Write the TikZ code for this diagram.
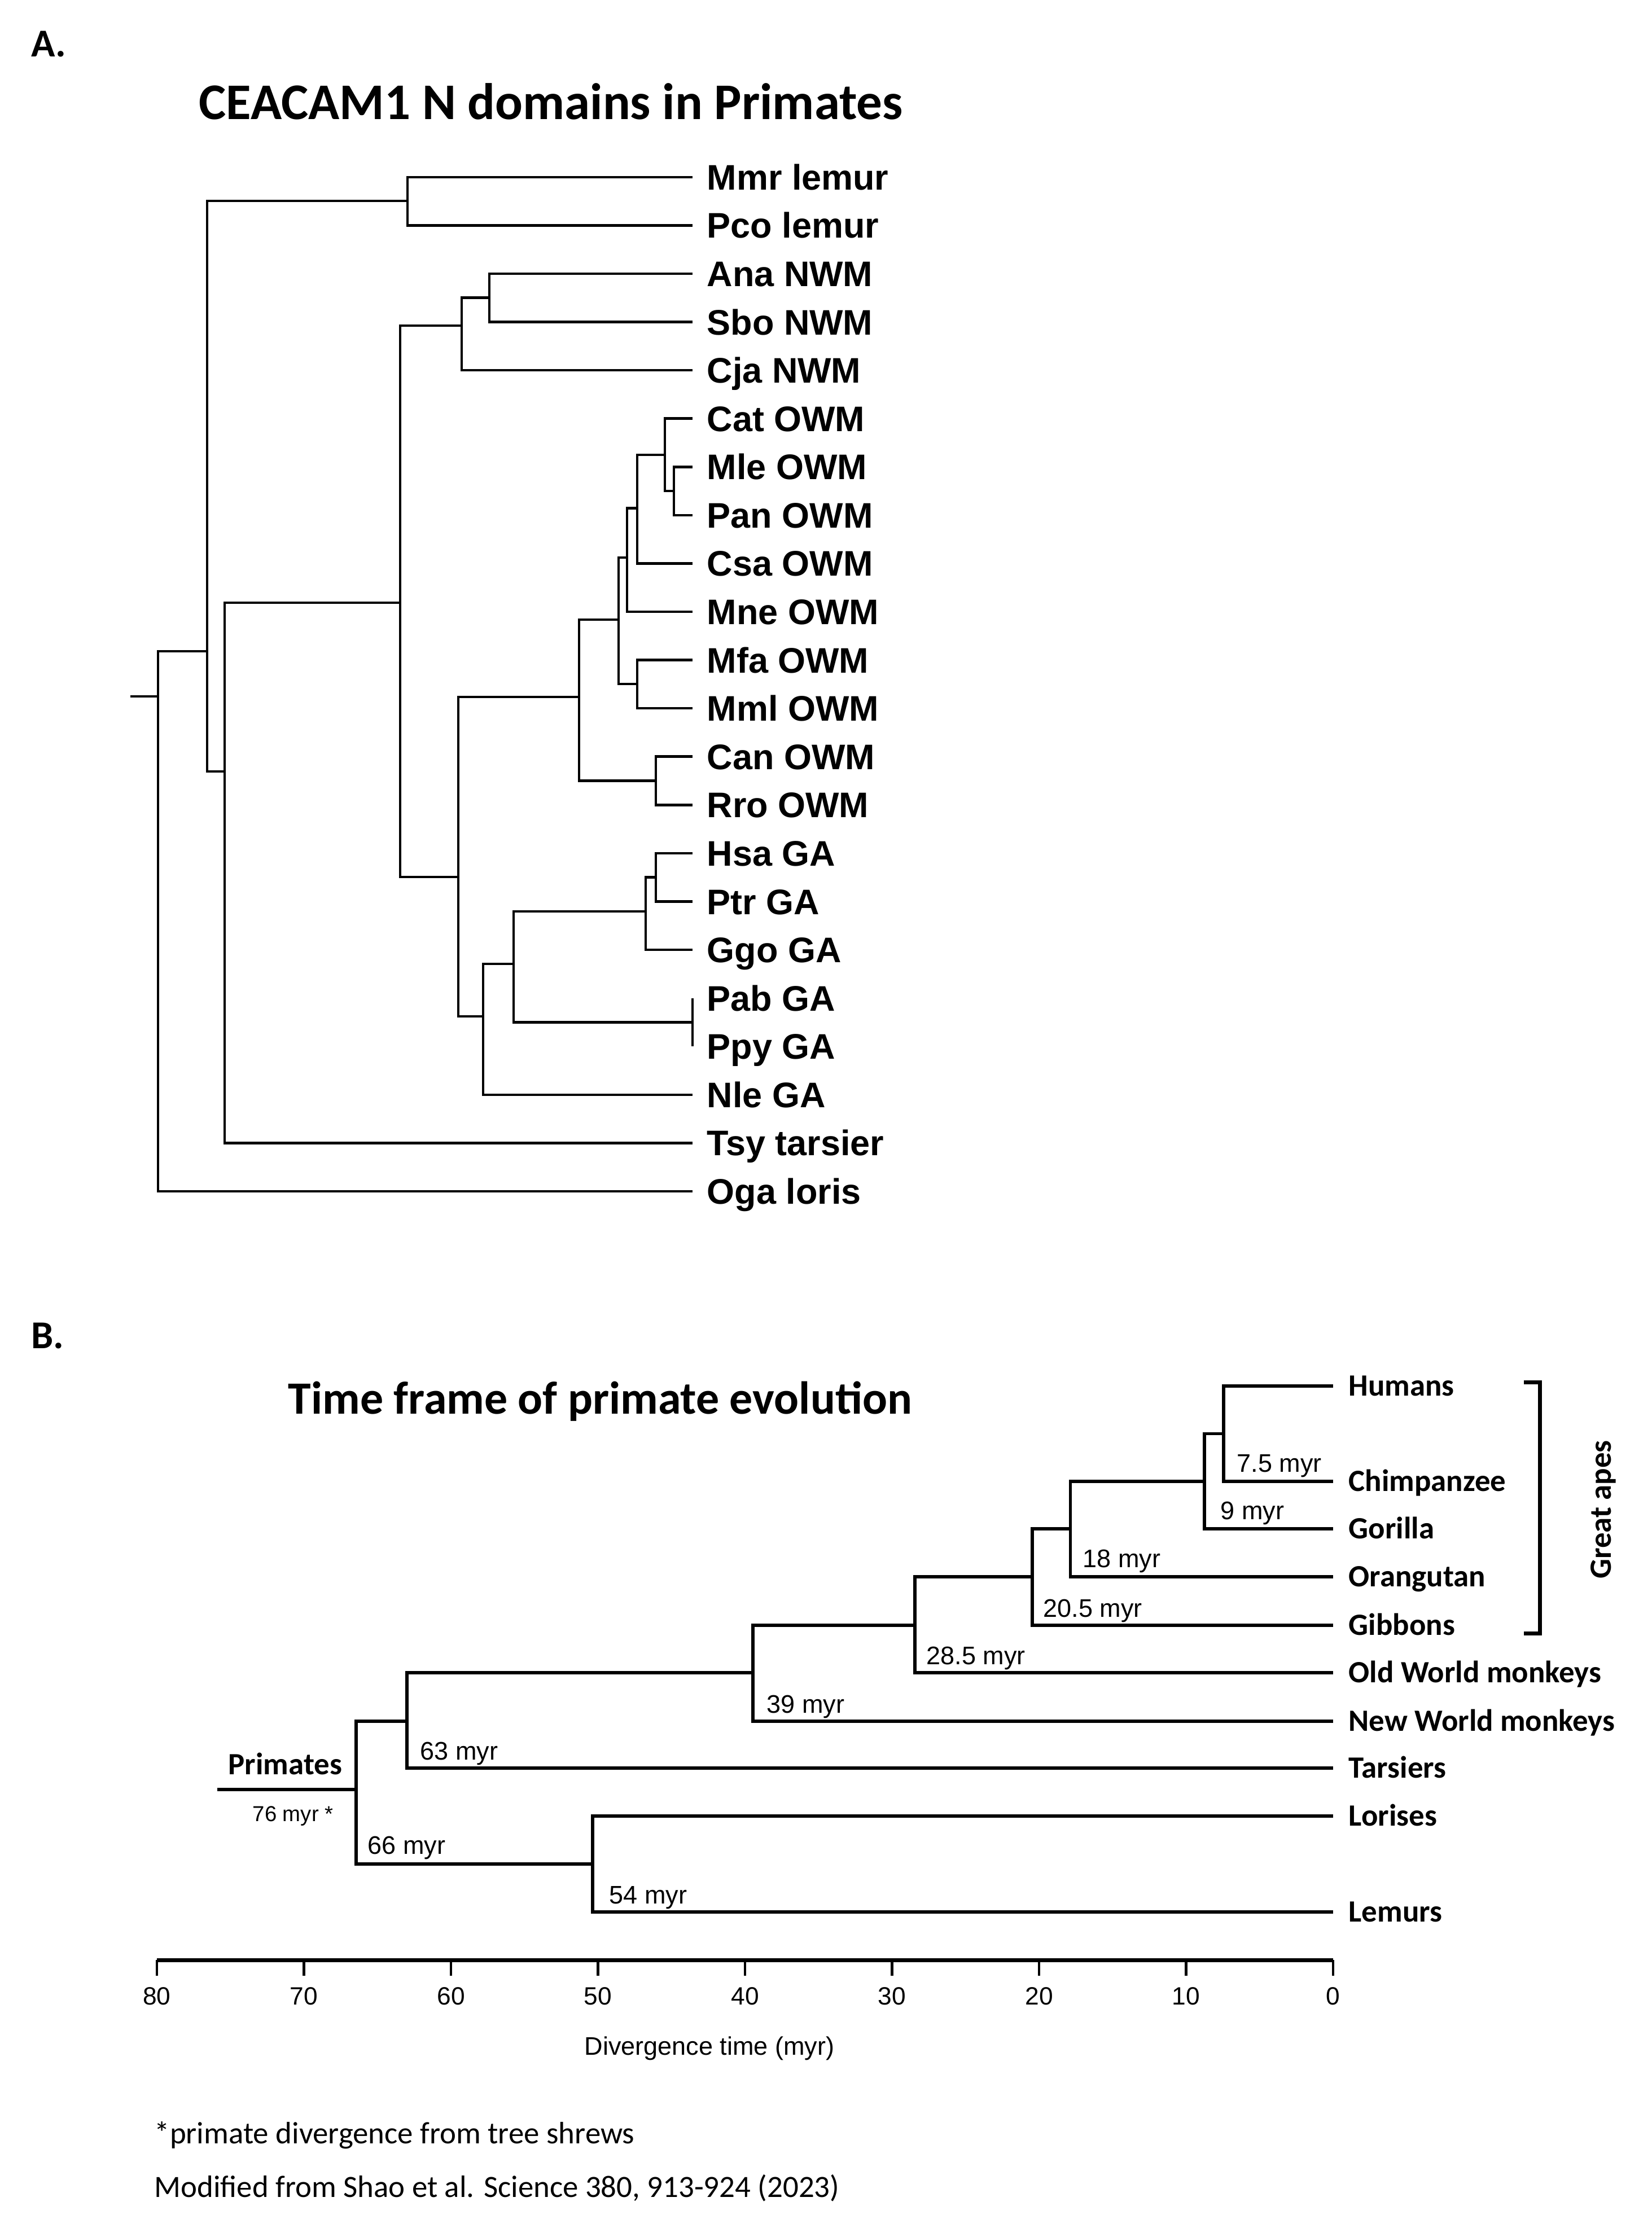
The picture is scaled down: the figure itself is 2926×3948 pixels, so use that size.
\documentclass[tikz,border=0pt]{standalone}
\usepackage{fontspec}
\setmainfont{Carlito}
\newfontfamily\arial{Liberation Sans}

\tikzset{
  branchA/.style={line width=1.3pt},
  branchB/.style={line width=1.55pt},
  leafA/.style={anchor=west, inner xsep=0.25cm, inner ysep=0pt, text height=12.8pt, text depth=0pt,
    font=\arial\bfseries\fontsize{17.9pt}{20pt}\selectfont},
  leafB/.style={anchor=west, inner xsep=0.27cm, inner ysep=0pt, text height=10pt, text depth=0pt,
    font=\bfseries\fontsize{15.6pt}{18pt}\selectfont},
  myr/.style={anchor=west, inner sep=0pt, text height=9.2pt, text depth=0pt,
    font=\arial\fontsize{12.8pt}{15pt}\selectfont},
  panel/.style={anchor=west, inner sep=0pt, text height=12.8pt, text depth=0pt,
    font=\bfseries\fontsize{19.9pt}{23pt}\selectfont},
}

\begin{document}
\begin{tikzpicture}[x=0.01cm, y=-0.01cm]
    \useasboundingbox (0,0) rectangle (2926,3948);

    % Panel A: CEACAM1 N domain tree
    \node[panel] (pa) at (55,78) {A.};
    \node[panel, text height=16.7pt, font=\bfseries\fontsize{25.9pt}{30pt}\selectfont] (ta) at (352,182) {CEACAM1 N domains in Primates};

    \foreach \nm/\txt [count=\i from 0] in {mmr/Mmr lemur, pco/Pco lemur, ana/Ana NWM, sbo/Sbo NWM, cja/Cja NWM,
        cat/Cat OWM, mle/Mle OWM, pan/Pan OWM, csa/Csa OWM, mne/Mne OWM, mfa/Mfa OWM, mml/Mml OWM,
        can/Can OWM, rro/Rro OWM, hsa/Hsa GA, ptr/Ptr GA, ggo/Ggo GA, pab/Pab GA, ppy/Ppy GA,
        nle/Nle GA, tsy/Tsy tarsier, oga/Oga loris}
      \node[leafA] (\nm) at (1227,{313.8+85.58*\i}) {\txt};

    % internal nodes
    \coordinate (stub) at (231,1234);
    \coordinate (root) at (280,1234);
    \coordinate (n1) at (367,1154);
    \coordinate (lem) at (722,356.2);
    \coordinate (n2) at (398,1367);
    \coordinate (n3) at (709,1068);
    \coordinate (nw) at (818,577);
    \coordinate (as) at (867,527.7);
    \coordinate (n4) at (812,1554);
    \coordinate (ow) at (1026,1235);
    \coordinate (o2) at (1096,1098);
    \coordinate (o3) at (1111,988);
    \coordinate (o4) at (1129,900.5);
    \coordinate (o5) at (1178,806);
    \coordinate (o6) at (1194,870);
    \coordinate (o7) at (1129,1212);
    \coordinate (o8) at (1162,1383.5);
    \coordinate (g1) at (856,1801);
    \coordinate (g2) at (910,1708);
    \coordinate (g3) at (1144,1615);
    \coordinate (g4) at (1162,1554.7);
    \coordinate (pp) at (1227,1811.5);

    \draw[branchA] (stub) -- (root);
    \foreach \a/\b in {root/n1, root/oga.west, n1/lem, n1/n2, lem/mmr.west, lem/pco.west,
        n2/n3, n2/tsy.west, n3/nw, n3/n4, nw/as, nw/cja.west, as/ana.west, as/sbo.west,
        n4/ow, n4/g1, ow/o2, ow/o8, o2/o3, o2/o7, o3/o4, o3/mne.west, o4/o5, o4/csa.west,
        o5/cat.west, o5/o6, o6/mle.west, o6/pan.west, o7/mfa.west, o7/mml.west,
        o8/can.west, o8/rro.west, g1/g2, g1/nle.west, g2/g3, g2/pp, g3/g4, g3/ggo.west,
        g4/hsa.west, g4/ptr.west}
      \draw[branchA] (\a) |- (\b);
    \draw[branchA] (pab.west) -- (ppy.west);

    % Panel B: time frame
    \node[panel] (pb) at (55,2367) {B.};
    \node[panel, text height=15pt, font=\bfseries\fontsize{23.3pt}{27pt}\selectfont] (tb) at (510,2479) {Time frame of primate evolution};

    \foreach \nm/\yy/\txt in {hum/2456/Humans, chi/2625/Chimpanzee, gor/2709/Gorilla, org/2794/Orangutan,
        gib/2880/Gibbons, owm/2964/Old World monkeys, nwm/3050/New World monkeys, tar/3133/Tarsiers,
        lor/3218/Lorises, lmr/3388/Lemurs}
      \node[leafB] (\nm) at (2362,\yy) {\txt};

    \coordinate (hc) at (2168,2540.5);
    \coordinate (hg) at (2134,2625);
    \coordinate (ha) at (1896.5,2709);
    \coordinate (ap) at (1829,2794);
    \coordinate (ca) at (1621,2880);
    \coordinate (an) at (1334,2964);
    \coordinate (ht) at (721,3050);
    \coordinate (pr) at (631,3171);
    \coordinate (st) at (1050,3303);
    \coordinate (stem) at (385,3171);

    \draw[branchB] (stem) -- (pr);
    \foreach \a/\b in {hc/hum.west, hc/chi.west, hg/hc, hg/gor.west, ha/hg, ha/org.west,
        ap/ha, ap/gib.west, ca/ap, ca/owm.west, an/ca, an/nwm.west, ht/an, ht/tar.west,
        pr/ht, pr/st, st/lor.west, st/lmr.west}
      \draw[branchB] (\a) |- (\b);

    % divergence times
    \node[myr] (m75) at (2191,2592) {7.5 myr};
    \node[myr] (m9) at (2162,2676) {9 myr};
    \node[myr] (m18) at (1918,2761) {18 myr};
    \node[myr] (m205) at (1848,2849) {20.5 myr};
    \node[myr] (m285) at (1641,2933) {28.5 myr};
    \node[myr] (m39) at (1358,3019) {39 myr};
    \node[myr] (m63) at (744,3102) {63 myr};
    \node[myr] (m66) at (651,3269) {66 myr};
    \node[myr] (m54) at (1079,3357) {54 myr};
    \node[leafB, inner xsep=0pt] (prim) at (404,3127) {Primates};
    \node[myr, text height=7.8pt, font=\arial\fontsize{10.9pt}{13pt}\selectfont] (m76) at (447,3214) {76 myr *};

    % great apes bracket
    \coordinate (ga1) at (2700,2449);
    \coordinate (ga2) at (2728,2449);
    \coordinate (ga3) at (2728,2894);
    \coordinate (ga4) at (2700,2894);
    \draw[line width=2pt] (ga1) -- (ga2) -- (ga3) -- (ga4);
    \node[leafB, anchor=center, inner xsep=0pt, rotate=90] (gap) at (2837,2675) {Great apes};

    % time axis
    \coordinate (ax80) at (277.6,3473);
    \coordinate (ax0) at (2362,3473);
    \draw[line width=2pt] (ax80) -- (ax0);
    \foreach \t in {0,10,...,80} {
      \draw[line width=1.2pt] ({2362-26.05*\t},3473) -- ++(0,28);
      \node[myr, anchor=center, font=\arial\fontsize{12.6pt}{15pt}\selectfont] (tk\t) at ({2362-26.05*\t},3536) {\t};
    }
    \node[myr, anchor=center] (axt) at (1257,3625) {Divergence time (myr)};

    % notes
    \node[myr, text height=10pt, font=\fontsize{15.6pt}{18pt}\selectfont] (fn1) at (273,3781) {*primate divergence from tree shrews};
    \node[myr, text height=10pt, font=\fontsize{15.6pt}{18pt}\selectfont] (fn2) at (273,3876) {Modified from Shao et al. Science 380, 913-924 (2023)};
\end{tikzpicture}
\end{document}
